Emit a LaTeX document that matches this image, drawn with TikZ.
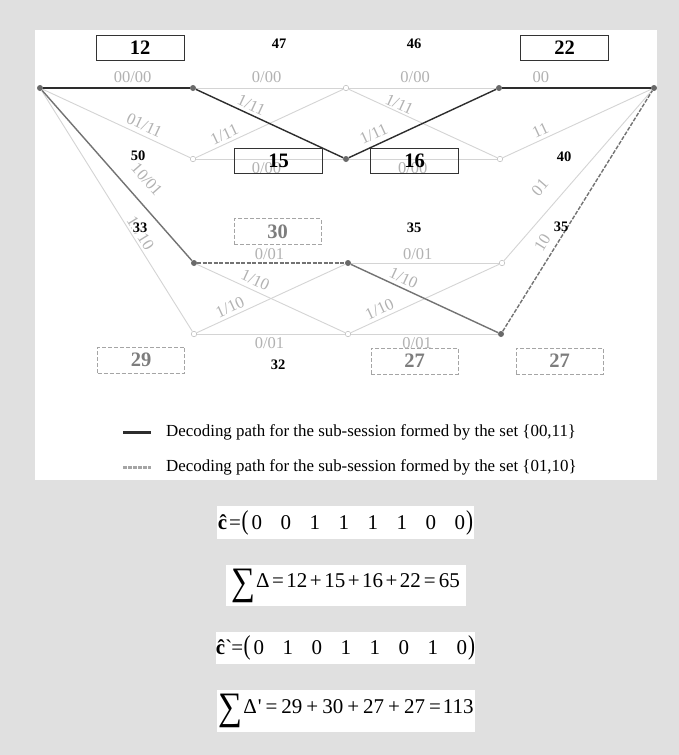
\documentclass[tikz,border=0pt]{standalone}
\usepackage{fontspec}
\setmainfont{Liberation Serif}
\newfontfamily\rawserif{Liberation Serif}[Ligatures=TeXOff]
\usepackage{graphicx}
\definecolor{bgc}{RGB}{224,224,224}
\definecolor{edgec}{RGB}{212,212,212}
\definecolor{odotc}{RGB}{195,195,195}
\definecolor{labc}{RGB}{178,178,178}
\definecolor{pathk}{RGB}{45,45,45}
\definecolor{pathg}{RGB}{115,115,115}
\definecolor{dotc}{RGB}{105,105,105}
\definecolor{dboxc}{RGB}{165,165,165}
\definecolor{dtxtc}{RGB}{125,125,125}
\definecolor{legg}{RGB}{165,165,165}
\newcommand\fsz[1]{\fontsize{#1}{#1}\selectfont}
\newcommand\mybits[8]{#1\hspace{18.5pt}#2\hspace{18.5pt}#3\hspace{18.5pt}#4\hspace{18.5pt}#5\hspace{18.5pt}#6\hspace{18.5pt}#7\hspace{18.5pt}#8}
\newcommand\bigsum{\raisebox{-6.5pt}{\scalebox{1.6}[1.85]{∑}}}
\newcommand\pl{\hspace{2.5pt}+\hspace{2.5pt}}
\newcommand\plw{\hspace{4pt}+\hspace{4pt}}
\begin{document}
\begin{tikzpicture}[x=1pt,y=-1pt,
  edge/.style={draw=edgec, line width=0.9pt},
  kpath/.style={draw=pathk, line width=1.4pt},
  gpath/.style={draw=pathg, line width=1.4pt},
  gdash/.style={draw=pathg, line width=1.4pt, dash pattern=on 4pt off 1.5pt},
  fdot/.style={circle, fill=dotc, inner sep=0pt, minimum size=6pt},
  odot/.style={circle, draw=odotc, fill=white, inner sep=0pt, minimum size=5.5pt, line width=0.6pt},
  lb/.style={font=\fsz{16.5}, text=labc, sloped, inner sep=1pt},
  num/.style={font=\fsz{14.5}\bfseries, inner sep=0.5pt},
  sbox/.style={draw=black!80, line width=0.8pt, minimum width=88pt, minimum height=25pt, inner sep=0pt, font=\fsz{20.5}\bfseries},
  dbox/.style={draw=dboxc, line width=0.8pt, dash pattern=on 4pt off 2pt, minimum width=87pt, minimum height=26pt, inner sep=0pt, font=\fsz{20.5}\bfseries, text=dtxtc},
  eqb/.style={fill=white, inner sep=0pt, font=\fsz{21}}
]
\useasboundingbox (0,0) rectangle (679,755);
\fill[bgc] (0,0) rectangle (679,755);
\fill[white] (35,30) rectangle (657,480);

% trellis nodes
\node[fdot] (S) at (40,88) {};
\node[fdot] (A1) at (193,88) {};
\node[odot] (A2) at (193,159) {};
\node[fdot] (A3) at (194,263) {};
\node[odot] (A4) at (194,334) {};
\node[odot] (B1) at (346,88) {};
\node[fdot] (B2) at (346,159) {};
\node[fdot] (B3) at (348,263) {};
\node[odot] (B4) at (348,334) {};
\node[fdot] (C1) at (499,88) {};
\node[odot] (C2) at (500,159) {};
\node[odot] (C3) at (502,263) {};
\node[fdot] (C4) at (501,334) {};
\node[fdot] (E) at (654,88) {};

% light edges
\path[edge] (A1) -- node[lb, pos=.48, above=3.5pt] {0/00} (B1);
\path[edge] (A2) -- node[lb, pos=.22, above=2pt] {1/11} (B1);
\path[edge] (A2) -- node[lb, pos=.48, below=2.5pt] {0/00} (B2);
\path[edge] (B1) -- node[lb, pos=.45, above=3.5pt] {0/00} (C1);
\path[edge] (B1) -- node[lb, pos=.32, above=0.5pt] {1/11} (C2);
\path[edge] (B2) -- node[lb, pos=.43, below=2.5pt] {0/00} (C2);
\path[edge] (C2) -- node[lb, pos=.28, above=2.5pt] {11} (E);
\path[edge] (S) -- node[lb, pos=.66, above=3.2pt] {01/11} (A2);
\path[edge] (S) -- node[lb, pos=.61, above=1pt] {11/10} (A4);
\path[edge] (A3) -- node[lb, pos=.365, above=3.3pt] {1/10} (B4);
\path[edge] (A4) -- node[lb, pos=.25, above=2.4pt] {1/10} (B3);
\path[edge] (A4) -- node[lb, pos=.49, below=2.5pt] {0/01} (B4);
\path[edge] (B3) -- node[lb, pos=.45, above=1.5pt] {0/01} (C3);
\path[edge] (B4) -- node[lb, pos=.22, above=2.5pt] {1/10} (C3);
\path[edge] (B4) -- node[lb, pos=.45, below=2.5pt] {0/01} (C4);
\path[edge] (C3) -- node[lb, pos=.35, above=14pt] {01} (E);

% black decoding path {00,11}
\path[kpath] (S) -- node[lb, pos=.61, above=3.5pt] {00/00} (A1);
\path[kpath] (A1) -- node[lb, pos=.35, above=2pt] {1/11} (B2);
\path[kpath] (B2) -- node[lb, pos=.2, above=4pt] {1/11} (C1);
\path[kpath] (C1) -- node[lb, pos=.26, above=3.5pt] {00} (E);

% gray decoding path {01,10}
\path[gpath] (S) -- node[lb, pos=.6, above=12.6pt] {10/01} (A3);
\path[gdash] (A3) -- node[lb, pos=.49, above=1.5pt] {0/01} (B3);
\path[gpath] (B3) -- node[lb, pos=.33, above=2.6pt] {1/10} (C4);
\path[gdash] (C4) -- node[lb, pos=.34, above=6pt] {10} (E);

% metric numbers
\node[num] (n47) at (279,44) {47};
\node[num] (n46) at (414,44) {46};
\node[num] (n50) at (138,156) {50};
\node[num] (n40) at (564,157) {40};
\node[num, fill=white] (n33) at (140,228) {33};
\node[num] (n35a) at (414,228) {35};
\node[num] (n35b) at (561,227) {35};
\node[num] (n32) at (278,365) {32};

% boxes
\node[sbox] (b12) at (140,47.5) {12};
\node[sbox] (b22) at (564.5,47.5) {22};
\node[sbox] (b15) at (278.5,161) {15};
\node[sbox] (b16) at (414.5,161) {16};
\node[dbox] (b30) at (277.5,231.5) {30};
\node[dbox] (b29) at (141,360) {29};
\node[dbox] (b27a) at (414.5,361) {27};
\node[dbox] (b27b) at (559.5,361) {27};

% legend
\coordinate (la1) at (123,432);
\coordinate (la2) at (151,432);
\coordinate (lb1) at (123,467);
\coordinate (lb2) at (151,467);
\draw[pathk, line width=3pt] (la1) -- (la2);
\draw[legg, line width=3pt, dash pattern=on 3.5pt off 1.5pt] (lb1) -- (lb2);
\node[anchor=west, font=\fsz{16.9}, inner sep=0pt] (lt1) at (166,432) {Decoding path for the sub-session formed by the set \{00,11\}};
\node[anchor=west, font=\fsz{16.9}, inner sep=0pt] (lt2) at (166,467) {Decoding path for the sub-session formed by the set \{01,10\}};

% equations
\node[eqb, minimum width=257pt, minimum height=33pt] (eq1) at (345.5,522.5)
  {\textbf{ĉ}\hspace{2pt}=\hspace{0.5pt}\scalebox{1}[1.3]{(}\hspace{3pt}\mybits{0}{0}{1}{1}{1}{1}{0}{0}\hspace{1pt}\scalebox{1}[1.3]{)}};
\node[eqb, minimum width=240pt, minimum height=41pt] (eq2) at (345.5,585.5)
  {\bigsum\hspace{1pt}Δ\hspace{2.5pt}=\hspace{2.5pt}12\pl 15\pl 16\pl 22\hspace{3pt}=\hspace{3pt}65};
\node[eqb, minimum width=257pt, minimum height=32pt] (eq3) at (345.5,648)
  {\textbf{ĉ}{\rawserif\symbol{"60}}\hspace{-1pt}=\hspace{0.5pt}\scalebox{1}[1.3]{(}\hspace{3pt}\mybits{0}{1}{0}{1}{1}{0}{1}{0}\hspace{1pt}\scalebox{1}[1.3]{)}};
\node[eqb, minimum width=258pt, minimum height=42pt] (eq4) at (346,711)
  {\bigsum\hspace{1pt}Δ\hspace{1pt}{\rawserif\symbol{"27}}\hspace{4pt}=\hspace{4pt}29\plw 30\plw 27\plw 27\hspace{4pt}=\hspace{2pt}113};
\end{tikzpicture}
\end{document}
